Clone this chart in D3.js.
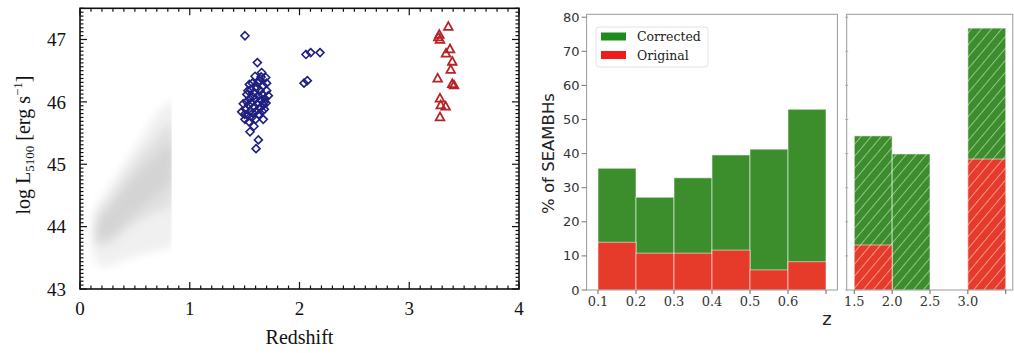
<!DOCTYPE html>
<html><head><meta charset="utf-8">
<script src="https://cdn.jsdelivr.net/npm/d3@7"></script>
<style>body{margin:0;background:#fff}svg{display:block}</style>
</head><body>
<svg id="c" width="1014" height="353"></svg>
<script>
// ---------- Left panel data ----------
const xTicksL = [0, 1, 2, 3, 4];
const yTicksL = [43, 44, 45, 46, 47];
// blue diamonds: [redshift, logL5100]
const diamonds = [
 [1.503,47.06],[2.059,46.76],[2.102,46.79],[2.187,46.79],[2.041,46.30],[2.071,46.34],
 [1.616,46.63],[1.595,46.41],[1.655,46.47],[1.692,46.39],[1.543,46.28],[1.634,46.34],
 [1.670,46.26],[1.701,46.18],[1.716,46.10],[1.686,46.05],[1.560,46.20],[1.585,46.15],
 [1.610,46.22],[1.640,46.18],[1.660,46.12],[1.575,46.08],[1.600,46.05],[1.625,46.10],
 [1.650,46.02],[1.545,46.05],[1.520,46.00],[1.535,45.95],[1.560,45.98],[1.590,45.92],
 [1.615,45.97],[1.640,45.90],[1.670,45.95],[1.695,45.98],[1.510,45.88],[1.550,45.85],
 [1.575,45.82],[1.605,45.85],[1.630,45.80],[1.660,45.85],[1.488,45.97],[1.473,45.84],
 [1.500,45.80],[1.530,45.78],[1.565,45.75],[1.600,45.72],[1.680,45.88],[1.503,45.72],
 [1.585,45.61],[1.549,45.52],[1.670,45.72],[1.625,45.39],[1.604,45.25],[1.520,46.12],
 [1.570,46.30],[1.620,46.30],[1.650,46.40],[1.700,46.30],[1.540,45.68],[1.680,46.00],
 [1.530,46.18]
];
// red triangles
const triangles = [
 [3.356,47.21],[3.274,47.08],[3.265,47.04],[3.280,47.00],[3.371,46.85],[3.335,46.78],
 [3.392,46.65],[3.378,46.52],[3.259,46.38],[3.392,46.29],[3.408,46.27],[3.280,46.06],
 [3.287,45.95],[3.332,45.93],[3.280,45.76]
];
// grey low-z cloud, drawn as density envelopes
const cloudOuter = [[0.11,43.85],[0.14,43.45],[0.22,43.35],[0.38,43.45],[0.55,43.55],[0.72,43.62],[0.84,43.70],[0.84,46.00],[0.72,45.85],[0.55,45.40],[0.40,45.00],[0.25,44.60],[0.13,44.25]];
const cloudMid = [[0.14,43.72],[0.25,43.70],[0.45,43.98],[0.65,44.20],[0.83,44.35],[0.83,45.65],[0.65,45.35],[0.45,44.92],[0.28,44.48],[0.15,44.18]];
const cloudCore = [[0.17,43.80],[0.30,43.88],[0.50,44.22],[0.70,44.52],[0.82,44.72],[0.82,45.30],[0.65,45.05],[0.45,44.70],[0.28,44.32],[0.18,44.08]];

// ---------- Right panel data ----------
const binLowStart = [0.1, 0.2, 0.3, 0.4, 0.5, 0.6];
const correctedLow = [35.7, 27.2, 32.9, 39.6, 41.3, 53.0];
const originalLow  = [14.0, 10.8, 10.8, 11.7, 5.9, 8.3];
const binHighStart = [1.5, 2.0, 3.0];
const correctedHigh = [45.2, 39.9, 76.8];
const originalHigh  = [13.2, 0, 38.4];
const yTicksR = [0, 10, 20, 30, 40, 50, 60, 70, 80];
const xTicksRL = ["0.1","0.2","0.3","0.4","0.5","0.6"];
const xTicksRR = ["1.5","2.0","2.5","3.0"];
const legendLabels = ["Corrected", "Original"];

const svg = d3.select("#c");
const defs = svg.append("defs");

// ================= LEFT PANEL =================
const xL = d3.scaleLinear().domain([0,4]).range([80,519]);
const yL = d3.scaleLinear().domain([43,47.5]).range([289,8.3]);
const serif = "'Liberation Serif','Times New Roman',serif";

defs.append("filter").attr("id","blur").attr("x","-20%").attr("y","-20%").attr("width","140%").attr("height","140%")
  .append("feGaussianBlur").attr("stdDeviation",4);
defs.append("clipPath").attr("id","cloudClip").append("rect")
  .attr("x",xL(0)).attr("y",yL(47.5)).attr("width",xL(0.835)-xL(0)).attr("height",yL(43)-yL(47.5));

const line = d3.line().x(d=>xL(d[0])).y(d=>yL(d[1])).curve(d3.curveCatmullRomClosed);
const cg = svg.append("g").attr("clip-path","url(#cloudClip)").append("g").attr("filter","url(#blur)");
cg.append("path").attr("d",line(cloudOuter)).attr("fill","#f0f0f0");
cg.append("path").attr("d",line(cloudMid)).attr("fill","#e0e0e0");
cg.append("path").attr("d",line(cloudCore)).attr("fill","#d4d4d4");

// points
const dsz = 4;
svg.append("g").selectAll("path").data(diamonds).join("path")
  .attr("d", d=>{const x=xL(d[0]),y=yL(d[1]);return `M${x},${y-dsz}L${x+dsz},${y}L${x},${y+dsz}L${x-dsz},${y}Z`;})
  .attr("fill","none").attr("stroke","#1f1f80").attr("stroke-width",1.6);
const tsz = 4.3;
svg.append("g").selectAll("path").data(triangles).join("path")
  .attr("d", d=>{const x=xL(d[0]),y=yL(d[1]);return `M${x},${y-tsz}L${x+tsz},${y+tsz*0.8}L${x-tsz},${y+tsz*0.8}Z`;})
  .attr("fill","none").attr("stroke","#b82326").attr("stroke-width",1.8);

// frame
svg.append("rect").attr("x",xL(0)).attr("y",yL(47.5)).attr("width",xL(4)-xL(0)).attr("height",yL(43)-yL(47.5))
  .attr("fill","none").attr("stroke","#111").attr("stroke-width",1.6);

// ticks (inside, all four sides)
const tk = svg.append("g").attr("stroke","#111").attr("stroke-width",1.2);
const xMinor = d3.range(0,4.0001,0.1);
xMinor.forEach(v=>{
  const major = Math.abs(v-Math.round(v))<1e-6;
  const len = major?7:3.5;
  tk.append("line").attr("x1",xL(v)).attr("x2",xL(v)).attr("y1",yL(43)).attr("y2",yL(43)-len);
  tk.append("line").attr("x1",xL(v)).attr("x2",xL(v)).attr("y1",yL(47.5)).attr("y2",yL(47.5)+len);
});
const yMinor = d3.range(43,47.5001,1/16);
yMinor.forEach(v=>{
  const major = Math.abs(v-Math.round(v))<1e-6;
  const len = major?7:3.5;
  tk.append("line").attr("y1",yL(v)).attr("y2",yL(v)).attr("x1",xL(0)).attr("x2",xL(0)+len);
  tk.append("line").attr("y1",yL(v)).attr("y2",yL(v)).attr("x1",xL(4)).attr("x2",xL(4)-len);
});

svg.append("g").selectAll("text").data(xTicksL).join("text")
  .attr("x",d=>xL(d)).attr("y",315).attr("text-anchor","middle")
  .attr("font-family",serif).attr("font-size",19).attr("fill","#111").text(d=>d);
svg.append("g").selectAll("text").data(yTicksL).join("text")
  .attr("x",66).attr("y",d=>yL(d)).attr("dy","0.35em").attr("text-anchor","end")
  .attr("font-family",serif).attr("font-size",19).attr("fill","#111").text(d=>d);
svg.append("text").attr("x",xL(2)).attr("y",344).attr("text-anchor","middle")
  .attr("font-family",serif).attr("font-size",20).attr("fill","#111").text("Redshift");
const yt = svg.append("text").attr("transform","translate(30,145) rotate(-90)").attr("text-anchor","middle")
  .attr("font-family",serif).attr("font-size",20).attr("fill","#111");
yt.append("tspan").text("log L");
yt.append("tspan").attr("font-size",13).attr("dy",4).text("5100");
yt.append("tspan").attr("dy",-4).text(" [erg s");
yt.append("tspan").attr("font-size",13).attr("dy",-8).text("−1");
yt.append("tspan").attr("dy",8).text("]");

// ================= RIGHT PANEL =================
const xRL = d3.scaleLinear().domain([0.07,0.73]).range([586.6,837.4]);
const xRR = d3.scaleLinear().domain([1.4,3.6]).range([846.7,1013.3]);
const yR = d3.scaleLinear().domain([0,80.85]).range([290,14.3]);
const GREEN = "#3c8e2d", RED = "#e63a2b";

const pat = defs.append("pattern").attr("id","hatch").attr("patternUnits","userSpaceOnUse")
  .attr("width",7.7).attr("height",20).attr("patternTransform","rotate(40)");
pat.append("line").attr("x1",0).attr("x2",0).attr("y1",0).attr("y2",20)
  .attr("stroke","#ffffff").attr("stroke-opacity",0.65).attr("stroke-width",1.4);

function bars(g, starts, vals, w, xs, color, hatch){
  const data = starts.map((s,i)=>({s,v:vals[i]})).filter(d=>d.v>0);
  g.append("g").selectAll("rect").data(data).join("rect")
    .attr("x",d=>xs(d.s)).attr("width",d=>xs(d.s+w)-xs(d.s))
    .attr("y",d=>yR(d.v)).attr("height",d=>yR(0)-yR(d.v))
    .attr("fill",color).attr("stroke","rgba(255,255,255,0.55)").attr("stroke-width",1);
  if(hatch){
    g.append("g").selectAll("rect").data(data).join("rect")
      .attr("x",d=>xs(d.s)).attr("width",d=>xs(d.s+w)-xs(d.s))
      .attr("y",d=>yR(d.v)).attr("height",d=>yR(0)-yR(d.v))
      .attr("fill","url(#hatch)");
  }
}
const gb = svg.append("g");
bars(gb, binLowStart, correctedLow, 0.1, xRL, GREEN, false);
bars(gb, binLowStart, originalLow, 0.1, xRL, RED, false);
bars(gb, binHighStart, correctedHigh, 0.5, xRR, GREEN, true);
bars(gb, binHighStart, originalHigh, 0.5, xRR, RED, true);

// frames
svg.append("rect").attr("x",xRL(0.07)).attr("y",yR(80.85)).attr("width",xRL(0.73)-xRL(0.07)).attr("height",yR(0)-yR(80.85))
  .attr("fill","none").attr("stroke","#9a9a9a").attr("stroke-width",1);
svg.append("rect").attr("x",xRR(1.4)).attr("y",yR(80.85)).attr("width",xRR(3.6)-xRR(1.4)-0.5).attr("height",yR(0)-yR(80.85))
  .attr("fill","none").attr("stroke","#9a9a9a").attr("stroke-width",1);

// y axis ticks + labels
const ay = svg.append("g");
yTicksR.forEach(v=>{
  ay.append("line").attr("x1",xRL(0.07)-5).attr("x2",xRL(0.07)).attr("y1",yR(v)).attr("y2",yR(v)).attr("stroke","#777").attr("stroke-width",1);
  ay.append("line").attr("x1",xRR(1.4)-1.5).attr("x2",xRR(1.4)+1.5).attr("y1",yR(v)).attr("y2",yR(v)).attr("stroke","#aaa").attr("stroke-width",1);
});
ay.selectAll("text").data(yTicksR).join("text")
  .attr("x",xRL(0.07)-7).attr("y",d=>yR(d)).attr("dy","0.35em").attr("text-anchor","end")
  .attr("font-family","'DejaVu Sans',sans-serif").attr("font-size",13).attr("fill","#333").text(d=>d);

// x ticks
const ax = svg.append("g");
const lowTickVals = [0.1,0.2,0.3,0.4,0.5,0.6,0.7];
lowTickVals.forEach(v=>ax.append("line").attr("x1",xRL(v)).attr("x2",xRL(v)).attr("y1",yR(0)).attr("y2",yR(0)+4).attr("stroke","#666"));
[1.5,2.0,2.5,3.0,3.5].forEach(v=>ax.append("line").attr("x1",xRR(v)).attr("x2",xRR(v)).attr("y1",yR(0)).attr("y2",yR(0)+4).attr("stroke","#666"));
ax.append("g").selectAll("text").data(xTicksRL).join("text")
  .attr("x",d=>xRL(+d)).attr("y",306).attr("text-anchor","middle")
  .attr("font-family","'DejaVu Serif',serif").attr("font-size",13).attr("fill","#333").text(d=>d);
ax.append("g").selectAll("text").data(xTicksRR).join("text")
  .attr("x",d=>xRR(+d)).attr("y",306).attr("text-anchor","middle")
  .attr("font-family","'DejaVu Serif',serif").attr("font-size",13).attr("fill","#333").text(d=>d);

svg.append("text").attr("transform","translate(554,153.5) rotate(-90)").attr("text-anchor","middle")
  .attr("font-family","'DejaVu Sans',sans-serif").attr("font-size",16.5).attr("fill","#222").text("% of SEAMBHs");
svg.append("text").attr("x",827).attr("y",325).attr("text-anchor","middle")
  .attr("font-family","'DejaVu Sans',sans-serif").attr("font-size",18).attr("fill","#222").text("z");

// legend
const lg = svg.append("g");
lg.append("rect").attr("x",596).attr("y",27).attr("width",112).attr("height",40).attr("rx",3)
  .attr("fill","#fff").attr("stroke","#e2e2e2").attr("stroke-width",1);
const legColors = ["#1f8a1f", "#f01c1c"];
legendLabels.forEach((t,i)=>{
  lg.append("rect").attr("x",601).attr("y",32.5+i*18.5).attr("width",25).attr("height",8).attr("fill",legColors[i]);
  lg.append("text").attr("x",637).attr("y",41+i*18.5).attr("font-family","'DejaVu Serif',serif")
    .attr("font-size",12.5).attr("fill","#222").text(t);
});
</script>
</body></html>
